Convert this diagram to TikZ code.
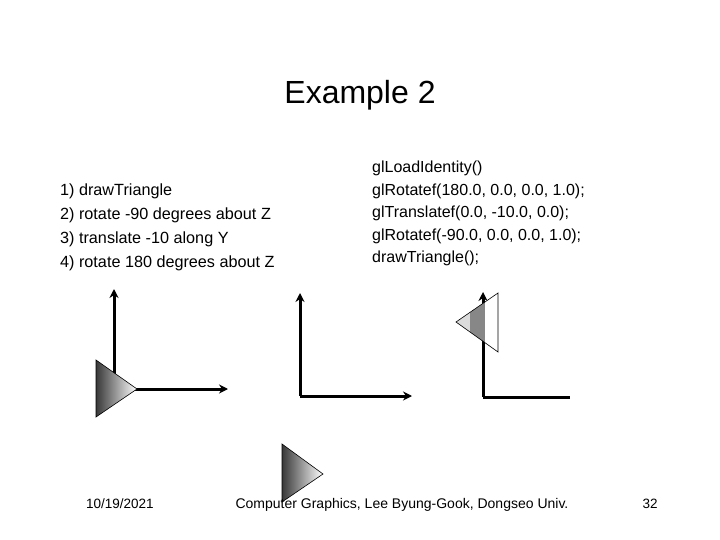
\documentclass[tikz,border=0pt]{standalone}
\usepackage{fontspec}
\setmainfont{Liberation Sans}
\usetikzlibrary{arrows.meta}
\begin{document}
\begin{tikzpicture}[x=1pt,y=-1pt,
  axis/.style={line width=3pt,-{Stealth[length=9pt,width=9pt]}},
  axisplain/.style={line width=3pt},
  tri/.style={draw=black,line width=0.6pt,left color=black!78,right color=white},
  txt/.style={anchor=west,inner sep=0pt,font=\fontsize{16.2}{19}\selectfont},
  code/.style={anchor=west,inner sep=0pt,font=\fontsize{16}{19}\selectfont},
  foot/.style={inner sep=0pt,anchor=base,font=\fontsize{13.5}{15}\selectfont}]
\useasboundingbox (0,0) rectangle (720,540);
\fill[white] (0,0) rectangle (720,540);
% title
\node[inner sep=0pt,font=\fontsize{32}{36}\selectfont] (title) at (360,95) {Example 2};
% left list
\node[txt] (l1) at (60,191) {1) drawTriangle};
\node[txt] (l2) at (60,215) {2) rotate -90 degrees about Z};
\node[txt] (l3) at (60,239) {3) translate -10 along Y};
\node[txt] (l4) at (60,263) {4) rotate 180 degrees about Z};
% right code
\node[code] (r1) at (372,168) {glLoadIdentity()};
\node[code] (r2) at (372,191) {glRotatef(180.0, 0.0, 0.0, 1.0);};
\node[code] (r3) at (372,213) {glTranslatef(0.0, -10.0, 0.0);};
\node[code] (r4) at (372,236) {glRotatef(-90.0, 0.0, 0.0, 1.0);};
\node[code] (r5) at (372,258) {drawTriangle();};
% set 1
\coordinate (o1) at (114,389);
\coordinate (y1) at (114,289);
\coordinate (x1) at (228,389);
\draw[axis] (o1) -- (y1);
\draw[axis] (o1) -- (x1);
\draw[tri] (96,360) -- (137,389) -- (96,417) -- cycle;
% set 2
\coordinate (o2) at (300,396);
\coordinate (y2) at (300,293);
\coordinate (x2) at (412,396);
\draw[axis] (o2) -- (y2);
\draw[axis] (o2) -- (x2);
\draw[tri] (282,444) -- (323,474) -- (282,502) -- cycle;
% footer
\node[foot,anchor=base west] (date) at (86,508) {10/19/2021};
\node[foot,font=\fontsize{14}{16}\selectfont] (course) at (402,508) {Computer Graphics, Lee Byung-Gook, Dongseo Univ.};
\node[foot] (page) at (650,508) {32};
% set 3
\coordinate (o3) at (483,397);
\coordinate (y3) at (483,292);
\coordinate (x3) at (570,397);
\draw[axis] (o3) -- (y3);
\draw[axisplain] (o3) -- (x3);
\begin{scope}
\clip (456,322) -- (498,293) -- (498,352) -- cycle;
\fill[black!14] (450,290) rectangle (470,355);
\fill[black!47] (470,290) rectangle (485,355);
\fill[white] (485,290) rectangle (500,355);
\end{scope}
\draw[line width=0.6pt] (456,322) -- (498,293) -- (498,352) -- cycle;
\end{tikzpicture}
\end{document}
